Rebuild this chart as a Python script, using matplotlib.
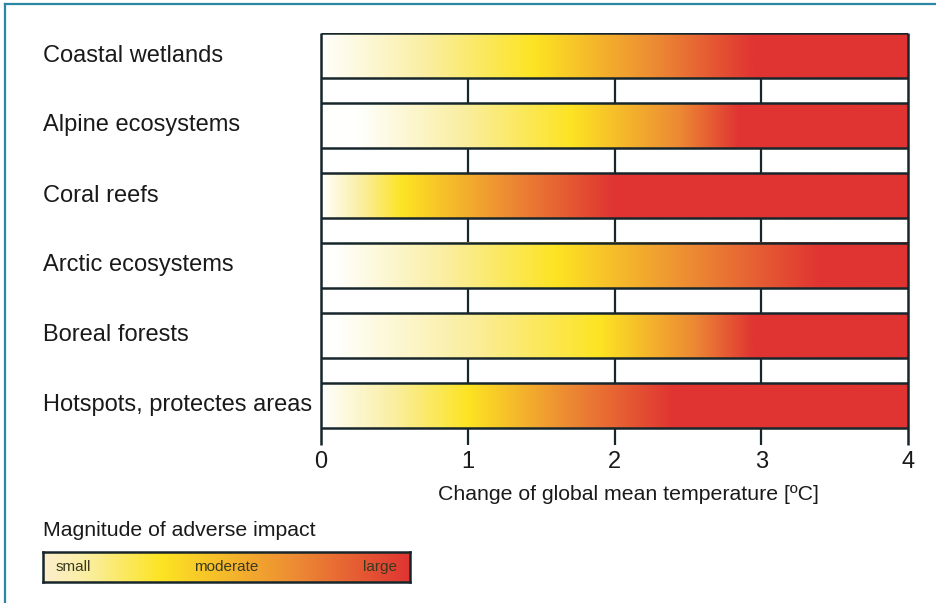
import matplotlib
matplotlib.use("Agg")
import matplotlib.pyplot as plt
import matplotlib.transforms as mtransforms
import numpy as np

plt.rcParams['font.family'] = ['Liberation Sans', 'DejaVu Sans']

# systems, top to bottom
categories = ['Coastal wetlands', 'Alpine ecosystems', 'Coral reefs',
              'Arctic ecosystems', 'Boreal forests', 'Hotspots, protectes areas']

# warming (ºC) where each bar reaches the given impact colour
white_end = [0.0, 0.25, 0.0, 0.1, 0.1, 0.0]
yellow_peak = [1.45, 1.7, 0.55, 1.6, 1.9, 1.0]
orange_at = [2.3, 2.45, 1.3, 2.55, 2.55, 1.7]
red_from = [2.95, 2.85, 2.0, 3.4, 2.95, 2.4]

ticks = [0, 1, 2, 3, 4]
xlabel = 'Change of global mean temperature [ºC]'
legend_title = 'Magnitude of adverse impact'
legend_words = ['small', 'moderate', 'large']

# colour ramp: white -> yellow -> orange -> red
WHITE = np.array([255, 255, 253]) / 255
PALE = np.array([250, 238, 160]) / 255
YELLOW = np.array([253, 228, 35]) / 255
ORANGE = np.array([236, 136, 52]) / 255
RED = np.array([224, 52, 50]) / 255
LINE = '#17262b'


def ramp(x, stops, colours):
    rgb = np.zeros((len(x), 3))
    for c in range(3):
        rgb[:, c] = np.interp(x, stops, [col[c] for col in colours])
    return rgb


W, H = 937, 603
fig = plt.figure(figsize=(W / 100, H / 100), dpi=100)

ax_top, ax_bot = 33, 445
ax = fig.add_axes([321 / W, 1 - ax_bot / H, (908 - 321) / W, (ax_bot - ax_top) / H])
bar_h = 45 / 70
y_top = -bar_h / 2
y_bot = y_top + (ax_bot - ax_top) / 70

xs = np.linspace(0, 4, 600)
for i in range(len(categories)):
    stops = [0, white_end[i] + 1e-3,
             (white_end[i] + yellow_peak[i]) / 2, yellow_peak[i],
             orange_at[i], red_from[i], 4.0]
    cols = [WHITE, WHITE, PALE, YELLOW, ORANGE, RED, RED]
    img = ramp(xs, stops, cols)[None, :, :]
    ax.imshow(img, extent=[0, 4, i + bar_h / 2, i - bar_h / 2],
              aspect='auto', interpolation='bilinear', zorder=2)
    ax.hlines([i - bar_h / 2, i + bar_h / 2], 0, 4, color=LINE, lw=1.8, zorder=3)

# grid lines at whole degrees show in the gaps between the bars
ax.vlines(ticks[1:-1], y_top, y_bot, color=LINE, lw=1.6, zorder=1)
ax.vlines([ticks[0], ticks[-1]], y_top, y_bot, color=LINE, lw=1.8, zorder=4,
          clip_on=False)

ax.set_xlim(0, 4)
ax.set_ylim(y_bot, y_top)
ax.axis('off')

for t in ticks:
    ax.text(t, -0.041, str(t), transform=mtransforms.blended_transform_factory(
        ax.transData, ax.transAxes), ha='center', va='center', fontsize=17,
        color='#1a1a1a')
fig.text(628 / W, 1 - 495 / H, xlabel, ha='center', va='center', fontsize=15.3,
         color='#1a1a1a')

lab_tr = mtransforms.blended_transform_factory(fig.transFigure, ax.transData)
for i, name in enumerate(categories):
    ax.text(43 / W, i, name, transform=lab_tr, ha='left', va='center',
            fontsize=17, color='#1a1a1a', zorder=5,
            bbox=dict(facecolor='white', edgecolor='none', pad=1))

# legend bar
fig.text(43 / W, 1 - 531 / H, legend_title, ha='left', va='center',
         fontsize=15.3, color='#1a1a1a')
lax = fig.add_axes([43 / W, 1 - 582 / H, (410 - 43) / W, 30 / H])
lx = np.linspace(0, 1, 400)
lcols = ramp(lx, [0, 0.12, 0.32, 0.7, 1.0],
             [np.array([252, 238, 205]) / 255, PALE, YELLOW, ORANGE, RED])
lax.imshow(lcols[None, :, :], extent=[0, 1, 0, 1], aspect='auto')
lax.set_xlim(0, 1)
lax.set_ylim(0, 1)
lax.set_xticks([])
lax.set_yticks([])
for s in lax.spines.values():
    s.set_linewidth(1.8)
    s.set_color(LINE)
for pos, word, ha in zip([0.035, 0.5, 0.965], legend_words, ['left', 'center', 'right']):
    lax.text(pos, 0.5, word, ha=ha, va='center', fontsize=11, color='#3a3a20',
             fontstretch='condensed')

# teal frame along the top and left edges
frame = '#2b87a3'
fig.add_artist(plt.Line2D([5 / W, 1], [1 - 4 / H, 1 - 4 / H], color=frame, lw=1.6,
                          transform=fig.transFigure))
fig.add_artist(plt.Line2D([5 / W, 5 / W], [0, 1 - 4 / H], color=frame, lw=1.6,
                          transform=fig.transFigure))

fig.savefig('out.png', dpi=100)
